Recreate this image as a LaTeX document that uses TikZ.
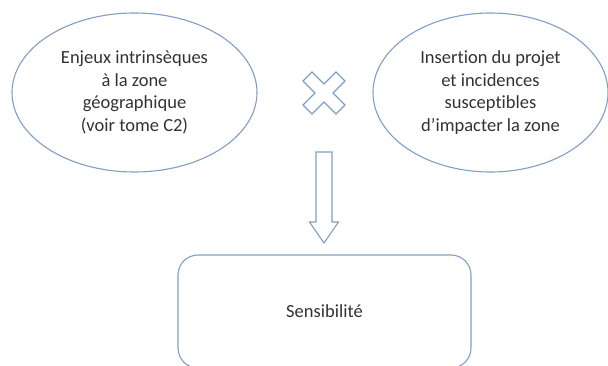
\documentclass[tikz,border=0pt]{standalone}
\usepackage{fontspec}
\setmainfont[Ligatures=NoCommon]{Carlito}
\usetikzlibrary{shapes.geometric}

\definecolor{outline}{RGB}{128,158,198}
\definecolor{textgrey}{RGB}{50,50,50}

\tikzset{
  bubble/.style={ellipse, draw=outline, line width=1.1pt, align=center,
    text=textgrey, font=\fontsize{18.5}{22.5}\selectfont},
  result/.style={draw=outline, line width=1.1pt, rounded corners=20pt,
    text=textgrey, font=\fontsize{18.5}{22.5}\selectfont},
  symbol/.style={draw=outline, line width=1.1pt, line join=miter}
}

\begin{document}
\begin{tikzpicture}[x=1pt,y=-1pt]
    % Frame
    \useasboundingbox (0,0) rectangle (608,366);

    % Ellipses
    \node[bubble, minimum width=245pt, minimum height=159pt] (enjeux) at (134.5,92.5)
        {Enjeux intrinsèques\\à la zone\\géographique\\(voir tome C2)};
    \node[bubble, minimum width=235pt, minimum height=159pt] (insertion) at (490.5,92.5)
        {Insertion du projet\\et incidences\\susceptibles\\d’impacter la zone};

    % Result box
    \node[result, minimum width=293pt, minimum height=113pt] (sens) at (324.5,311.5)
        {Sensibilité};

    % Cross between the ellipses
    \coordinate (cross) at (324,93);
    \draw[symbol, shift={(cross)}] (-21,-12) -- (-12,-21) -- (0,-9) -- (12,-21)
        -- (21,-12) -- (9,0) -- (21,12) -- (12,21) -- (0,9) -- (-12,21)
        -- (-21,12) -- (-9,0) -- cycle;

    % Block arrow down to the box
    \coordinate (arrowtop) at (324,152);
    \draw[symbol, shift={(arrowtop)}] (-8,0) -- (8,0) -- (8,70) -- (14.5,70)
        -- (0,91) -- (-14.5,70) -- (-8,70) -- cycle;
\end{tikzpicture}
\end{document}
